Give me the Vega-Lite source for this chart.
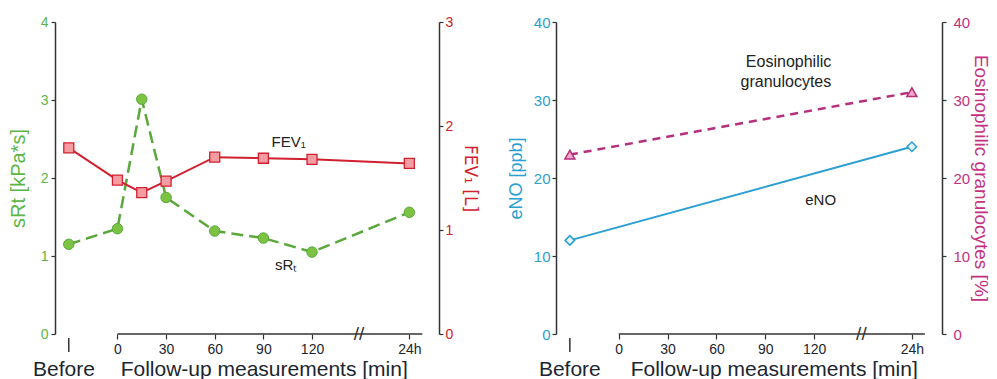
{
  "$schema": "https://vega.github.io/schema/vega-lite/v6.json",
  "background": "white",
  "padding": {"left": 8, "top": 15, "right": 0, "bottom": 0},
  "config": {
    "view": {"stroke": null},
    "font": "Liberation Sans",
    "axis": {"labelFont": "Liberation Sans", "titleFont": "Liberation Sans", "domainColor": "#333333", "tickColor": "#333333", "domainWidth": 1.5, "tickWidth": 1.2, "grid": false, "titleFontWeight": "normal"}
  },
  "datasets": {
    "lung": [
      {"t": -30, "sRt": 1.15, "FEV1": 1.79},
      {"t": 0, "sRt": 1.35, "FEV1": 1.48},
      {"t": 15, "sRt": 3.01, "FEV1": 1.36},
      {"t": 30, "sRt": 1.75, "FEV1": 1.47},
      {"t": 60, "sRt": 1.32, "FEV1": 1.70},
      {"t": 90, "sRt": 1.23, "FEV1": 1.69},
      {"t": 120, "sRt": 1.05, "FEV1": 1.68},
      {"t": 180, "sRt": 1.56, "FEV1": 1.64}
    ],
    "airway": [
      {"t": -30, "eNO": 12, "eos": 23},
      {"t": 180, "eNO": 24, "eos": 31}
    ]
  },
  "spacing": 28,
  "resolve": {"scale": {"x": "independent", "y": "independent"}},
  "hconcat": [
    {
      "width": 384,
      "height": 312,
      "data": {"name": "lung"},
      "resolve": {"scale": {"y": "independent"}},
      "layer": [
        {
          "layer": [
            {
              "mark": {"type": "line", "color": "#5aa83c", "strokeWidth": 2.5, "strokeDash": [12, 6]},
              "encoding": {
                "x": {"field": "t", "type": "quantitative", "scale": {"domain": [-38.5, 198.3]},
                  "axis": {"values": [0, 30, 60, 90, 120, 180], "format": "d", "labelExpr": "datum.value == 180 ? '24h' : datum.label", "domain": false, "tickSize": 5, "labelFontSize": 14, "labelColor": "#1c2630", "labelPadding": 3, "labelFlush": false, "labelOverlap": false, "title": ""}},
                "y": {"field": "sRt", "type": "quantitative", "scale": {"domain": [0, 4]},
                  "axis": {"orient": "left", "values": [0, 1, 2, 3, 4], "format": "d", "title": "sRt [kPa*s]", "titleColor": "#5cb646", "titleFontSize": 20, "titlePadding": 12, "labelColor": "#5cb646", "labelFontSize": 14, "tickSize": 4, "labelPadding": 3}}
              }
            },
            {
              "mark": {"type": "point", "shape": "circle", "filled": true, "size": 110, "fill": "#7cc243", "stroke": "#5aa83c", "strokeWidth": 1, "opacity": 1},
              "encoding": {
                "x": {"field": "t", "type": "quantitative", "scale": {"domain": [-38.5, 198.3]}},
                "y": {"field": "sRt", "type": "quantitative", "scale": {"domain": [0, 4]}}
              }
            },
            {
              "data": {"values": [{"t": 104, "sRt": 0.82, "s": "sRₜ"}]},
              "mark": {"type": "text", "fontSize": 15, "color": "#222222", "align": "center", "baseline": "alphabetic"},
              "encoding": {
                "x": {"field": "t", "type": "quantitative", "scale": {"domain": [-38.5, 198.3]}},
                "y": {"field": "sRt", "type": "quantitative", "scale": {"domain": [0, 4]}},
                "text": {"field": "s"}
              }
            },
            {
              "data": {"values": [{"t": 0, "t1": 188}]},
              "mark": {"type": "rule", "color": "#333333", "strokeWidth": 1.5},
              "encoding": {
                "x": {"field": "t", "type": "quantitative", "scale": {"domain": [-38.5, 198.3]}},
                "x2": {"field": "t1"},
                "y": {"datum": 0, "type": "quantitative", "scale": {"domain": [0, 4]}}
              }
            },
            {
              "data": {"values": [{"t": -30}]},
              "mark": {"type": "rule", "color": "#333333", "strokeWidth": 1.5},
              "encoding": {
                "x": {"field": "t", "type": "quantitative", "scale": {"domain": [-38.5, 198.3]}},
                "y": {"datum": -0.05, "type": "quantitative", "scale": {"domain": [0, 4]}},
                "y2": {"datum": -0.23}
              }
            },
            {
              "data": {"values": [{"t": 149, "s": "//"}]},
              "mark": {"type": "text", "fontSize": 19, "baseline": "middle", "align": "center", "color": "#333333"},
              "encoding": {
                "x": {"field": "t", "type": "quantitative", "scale": {"domain": [-38.5, 198.3]}},
                "y": {"datum": 0, "type": "quantitative", "scale": {"domain": [0, 4]}},
                "text": {"field": "s"}
              }
            },
            {
              "data": {"values": [{"t": -33, "s": "Before"}, {"t": 90.5, "s": "Follow-up measurements [min]"}]},
              "mark": {"type": "text", "fontSize": 21, "baseline": "alphabetic", "align": "center", "color": "#1c2630"},
              "encoding": {
                "x": {"field": "t", "type": "quantitative", "scale": {"domain": [-38.5, 198.3]}},
                "y": {"datum": -0.535, "type": "quantitative", "scale": {"domain": [0, 4]}},
                "text": {"field": "s"}
              }
            }
          ]
        },
        {
          "layer": [
            {
              "mark": {"type": "line", "color": "#d0202f", "strokeWidth": 2},
              "encoding": {
                "x": {"field": "t", "type": "quantitative", "scale": {"domain": [-38.5, 198.3]}},
                "y": {"field": "FEV1", "type": "quantitative", "scale": {"domain": [0, 3]},
                  "axis": {"orient": "right", "values": [0, 0.5, 1, 1.5, 2, 2.5, 3], "format": "d", "labelExpr": "datum.value % 1 == 0 ? datum.label : ''", "title": "FEV₁ [L]", "titleFont": "DejaVu Sans", "titleColor": "#d4202c", "titleFontSize": 17, "titlePadding": 8, "labelColor": "#d4202c", "labelFontSize": 14, "tickSize": 4, "labelPadding": 2}}
              }
            },
            {
              "mark": {"type": "point", "shape": "square", "filled": true, "size": 100, "fill": "#f59ca3", "stroke": "#d0202f", "strokeWidth": 1.3, "opacity": 1},
              "encoding": {
                "x": {"field": "t", "type": "quantitative", "scale": {"domain": [-38.5, 198.3]}},
                "y": {"field": "FEV1", "type": "quantitative", "scale": {"domain": [0, 3]}}
              }
            },
            {
              "data": {"values": [{"t": 105.6, "FEV1": 1.8, "s": "FEV₁"}]},
              "mark": {"type": "text", "fontSize": 15, "color": "#222222", "align": "center", "baseline": "alphabetic"},
              "encoding": {
                "x": {"field": "t", "type": "quantitative", "scale": {"domain": [-38.5, 198.3]}},
                "y": {"field": "FEV1", "type": "quantitative", "scale": {"domain": [0, 3]}},
                "text": {"field": "s"}
              }
            }
          ]
        }
      ]
    },
    {
      "width": 386,
      "height": 312,
      "data": {"name": "airway"},
      "resolve": {"scale": {"y": "independent"}},
      "layer": [
        {
          "layer": [
            {
              "mark": {"type": "line", "color": "#2b9fd3", "strokeWidth": 2},
              "encoding": {
                "x": {"field": "t", "type": "quantitative", "scale": {"domain": [-38.5, 198.5]},
                  "axis": {"values": [0, 30, 60, 90, 120, 180], "format": "d", "labelExpr": "datum.value == 180 ? '24h' : datum.label", "domain": false, "tickSize": 5, "labelFontSize": 14, "labelColor": "#1c2630", "labelPadding": 3, "labelFlush": false, "labelOverlap": false, "title": ""}},
                "y": {"field": "eNO", "type": "quantitative", "scale": {"domain": [0, 40]},
                  "axis": {"orient": "left", "values": [0, 10, 20, 30, 40], "format": "d", "title": "eNO [ppb]", "titleColor": "#2ba0d2", "titleFontSize": 18, "titlePadding": 8, "labelColor": "#2ba0d2", "labelFontSize": 15, "tickSize": 4, "labelPadding": 2}}
              }
            },
            {
              "mark": {"type": "point", "shape": "diamond", "filled": true, "size": 90, "fill": "#e6f5fb", "stroke": "#2b9fd3", "strokeWidth": 1.5, "opacity": 1},
              "encoding": {
                "x": {"field": "t", "type": "quantitative", "scale": {"domain": [-38.5, 198.5]}},
                "y": {"field": "eNO", "type": "quantitative", "scale": {"domain": [0, 40]}}
              }
            },
            {
              "data": {"values": [{"t": 124, "eNO": 16.5, "s": "eNO"}]},
              "mark": {"type": "text", "fontSize": 15, "color": "#222222", "align": "center", "baseline": "alphabetic"},
              "encoding": {
                "x": {"field": "t", "type": "quantitative", "scale": {"domain": [-38.5, 198.5]}},
                "y": {"field": "eNO", "type": "quantitative", "scale": {"domain": [0, 40]}},
                "text": {"field": "s"}
              }
            },
            {
              "data": {"values": [{"t": 0, "t1": 188}]},
              "mark": {"type": "rule", "color": "#333333", "strokeWidth": 1.5},
              "encoding": {
                "x": {"field": "t", "type": "quantitative", "scale": {"domain": [-38.5, 198.5]}},
                "x2": {"field": "t1"},
                "y": {"datum": 0, "type": "quantitative", "scale": {"domain": [0, 40]}}
              }
            },
            {
              "data": {"values": [{"t": -30}]},
              "mark": {"type": "rule", "color": "#333333", "strokeWidth": 1.5},
              "encoding": {
                "x": {"field": "t", "type": "quantitative", "scale": {"domain": [-38.5, 198.5]}},
                "y": {"datum": -0.5, "type": "quantitative", "scale": {"domain": [0, 40]}},
                "y2": {"datum": -2.3}
              }
            },
            {
              "data": {"values": [{"t": 149, "s": "//"}]},
              "mark": {"type": "text", "fontSize": 19, "baseline": "middle", "align": "center", "color": "#333333"},
              "encoding": {
                "x": {"field": "t", "type": "quantitative", "scale": {"domain": [-38.5, 198.5]}},
                "y": {"datum": 0, "type": "quantitative", "scale": {"domain": [0, 40]}},
                "text": {"field": "s"}
              }
            },
            {
              "data": {"values": [{"t": -30, "s": "Before"}, {"t": 95.5, "s": "Follow-up measurements [min]"}]},
              "mark": {"type": "text", "fontSize": 21, "baseline": "alphabetic", "align": "center", "color": "#1c2630"},
              "encoding": {
                "x": {"field": "t", "type": "quantitative", "scale": {"domain": [-38.5, 198.5]}},
                "y": {"datum": -5.35, "type": "quantitative", "scale": {"domain": [0, 40]}},
                "text": {"field": "s"}
              }
            }
          ]
        },
        {
          "layer": [
            {
              "mark": {"type": "line", "color": "#b52f7a", "strokeWidth": 2.5, "strokeDash": [8, 6]},
              "encoding": {
                "x": {"field": "t", "type": "quantitative", "scale": {"domain": [-38.5, 198.5]}},
                "y": {"field": "eos", "type": "quantitative", "scale": {"domain": [0, 40]},
                  "axis": {"orient": "right", "values": [0, 10, 20, 30, 40], "format": "d", "title": "Eosinophilic granulocytes [%]", "titleColor": "#c4317e", "titleFontSize": 19, "titlePadding": 1, "labelColor": "#c4317e", "labelFontSize": 15, "tickSize": 4, "labelPadding": 7}}
              }
            },
            {
              "mark": {"type": "point", "shape": "triangle-up", "filled": true, "size": 100, "fill": "#f2a7cd", "stroke": "#b52f7a", "strokeWidth": 1.5, "opacity": 1},
              "encoding": {
                "x": {"field": "t", "type": "quantitative", "scale": {"domain": [-38.5, 198.5]}},
                "y": {"field": "eos", "type": "quantitative", "scale": {"domain": [0, 40]}}
              }
            },
            {
              "data": {"values": [{"t": 130.5, "eos": 34.2, "s": "Eosinophilic\ngranulocytes"}]},
              "mark": {"type": "text", "fontSize": 16, "color": "#222222", "align": "right", "baseline": "alphabetic", "lineBreak": "\n", "lineHeight": 20},
              "encoding": {
                "x": {"field": "t", "type": "quantitative", "scale": {"domain": [-38.5, 198.5]}},
                "y": {"field": "eos", "type": "quantitative", "scale": {"domain": [0, 40]}},
                "text": {"field": "s"}
              }
            }
          ]
        }
      ]
    }
  ]
}
